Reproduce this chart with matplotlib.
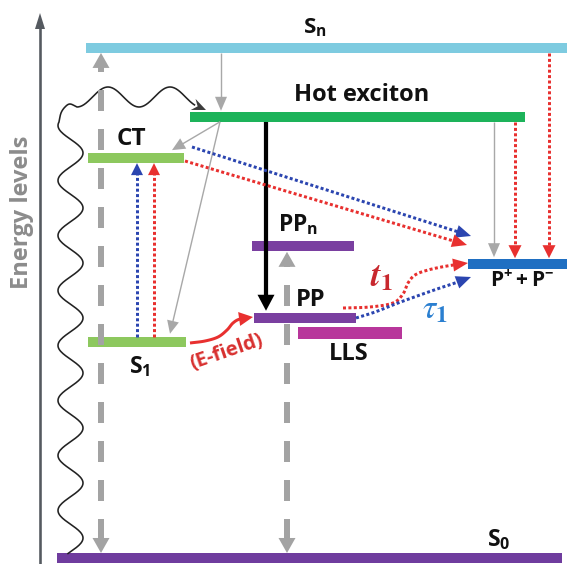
import numpy as np
import matplotlib
matplotlib.use('Agg')
import matplotlib.pyplot as plt
from matplotlib.mathtext import MathTextParser
from matplotlib.font_manager import FontProperties

plt.rcParams['font.family'] = ['Open Sans', 'DejaVu Sans']
plt.rcParams['mathtext.fontset'] = 'custom'
plt.rcParams['mathtext.rm'] = 'Open Sans'
plt.rcParams['mathtext.bf'] = 'Open Sans:bold'
plt.rcParams['mathtext.it'] = 'Open Sans:italic'

# ---------------- data: energy levels (arbitrary energy units) ----------------
level_keys = ['Sn', 'Hot', 'CT', 'PPn', 'Pion', 'PP', 'LLS', 'S1', 'S0']
level_energy = [10.0, 8.65, 7.84, 6.12, 5.76, 4.71, 4.41, 4.24, 0.0]
level_labels = [r'$\mathbf{S_n}$', 'Hot exciton', 'CT', r'$\mathbf{PP_n}$',
                r'$\mathbf{P^{+}+P^{-}}$', 'PP', 'LLS', r'$\mathbf{S_1}$', r'$\mathbf{S_0}$']
level_colors = ['#7ecbe0', '#1db35a', '#8dc85e', '#7a3fa0', '#1f6fc2',
                '#7a3fa0', '#b8369b', '#8dc85e', '#6f3c9e']
axis_label = 'Energy levels'
rate_labels = [r'$\mathbfit{t}_{\mathbf{1}}$', r'$\tau_{\mathbf{1}}$']
field_label = '(E-field)'

E = dict(zip(level_keys, level_energy))

# ---------------- layout ----------------
W_PX, H_PX = 567, 564
E_TOP, E_BOT = 10.94, -0.118
PXS = H_PX / (E_TOP - E_BOT)
level_span = {'Sn': (86, 567), 'Hot': (190, 525), 'CT': (88, 184), 'PPn': (252, 354),
              'Pion': (468, 567), 'PP': (254, 356), 'LLS': (298, 402), 'S1': (88, 186),
              'S0': (57, 562)}
level_thick = {'LLS': 12}
label_pos = {'Sn': (315, 28, 16), 'Hot': (362, 95, 17), 'CT': (131, 139, 17.5),
             'PPn': (298, 225, 16.5), 'Pion': (522, 280, 15), 'PP': (311, 300, 17),
             'LLS': (349, 354, 17), 'S1': (140, 367, 16.5), 'S0': (499, 540, 16.5)}

fig = plt.figure(figsize=(W_PX / 100, H_PX / 100), dpi=100)
ax = fig.add_axes([0, 0, 1, 1])
ax.set_xlim(0, W_PX)
ax.set_ylim(E_BOT, E_TOP)
ax.axis('off')


def ypx(e):
    return (E_TOP - e) * PXS


def d(x, y):
    return x, E_TOP - y / PXS


def lw_pt(px):
    return px * 0.72


def catmull(points, n=20):
    p = np.array(points, float)
    if len(p) < 3:
        return p
    p = np.vstack([p[0] * 2 - p[1], p, p[-1] * 2 - p[-2]])
    out = []
    for i in range(1, len(p) - 2):
        p0, p1, p2, p3 = p[i - 1], p[i], p[i + 1], p[i + 2]
        for t in np.linspace(0, 1, n, endpoint=False):
            t2, t3 = t * t, t * t * t
            out.append(0.5 * ((2 * p1) + (-p0 + p2) * t + (2 * p0 - 5 * p1 + 4 * p2 - p3) * t2
                              + (-p0 + 3 * p1 - 3 * p2 + p3) * t3))
    out.append(p[-2])
    return np.array(out)


def head_poly(tip, u, L, Wd, color, z, notch=0.0):
    n = np.array([-u[1], u[0]])
    base = tip - u * L
    pts = [tip, base + n * Wd / 2, base + u * L * notch, base - n * Wd / 2]
    xs = [q[0] for q in pts]
    ys = [E_TOP - q[1] / PXS for q in pts]
    ax.fill(xs, ys, color=color, lw=0, zorder=z)


def cut_end(pts, L):
    pts = np.array(pts, float)
    tip = pts[-1]
    acc = 0.0
    for i in range(len(pts) - 1, 0, -1):
        seg = np.linalg.norm(pts[i] - pts[i - 1])
        if acc + seg >= L:
            f = (L - acc) / seg
            base = pts[i] + (pts[i - 1] - pts[i]) * f
            return np.vstack([pts[:i], base]), base, tip
        acc += seg
    return pts[:1], pts[0], tip


def arrow(pts, color, lwpx, ls='-', L=12, Wd=10, hcolor=None, z=3, both=False,
          smooth=False, notch=0.0):
    pts = catmull(pts) if smooth else np.array(pts, float)
    line, base, tip = cut_end(pts, L * 0.85)
    u = (tip - base) / np.linalg.norm(tip - base)
    head_poly(tip, u, L, Wd, hcolor or color, z + 0.1, notch)
    if both:
        rev = line[::-1]
        line2, base2, tip2 = cut_end(rev, L * 0.85)
        u2 = (tip2 - base2) / np.linalg.norm(tip2 - base2)
        head_poly(tip2, u2, L, Wd, hcolor or color, z + 0.1, notch)
        line = line2[::-1]
    ax.plot(line[:, 0], E_TOP - line[:, 1] / PXS, color=color, lw=lw_pt(lwpx), ls=ls,
            solid_capstyle='butt', dash_capstyle='butt', zorder=z)


def math_ok(s, fam):
    try:
        MathTextParser('path').parse(s, prop=FontProperties(math_fontfamily=fam))
        return True
    except Exception:
        return False


# ---------------- energy axis ----------------
arrow([(40, 566), (40, 13)], '#555a60', 2.6, L=16, Wd=10, z=2)
ax.text(*d(22, 212), axis_label, rotation=90, ha='center', va='center',
        fontsize=17, fontweight='bold', color='#8c8c8c')

# ---------------- levels ----------------
for k, e, c in zip(level_keys, level_energy, level_colors):
    x0, x1 = level_span[k]
    th = level_thick.get(k, 10) / PXS
    ax.barh(e, x1 - x0, left=x0, height=th, color=c, zorder=2)

for k, lab in zip(level_keys, level_labels):
    x, y, fs = label_pos[k]
    ax.text(*d(x, y), lab, ha='center', va='center', fontsize=fs,
            fontweight='bold', color='#111111', zorder=6)

# ---------------- wavy line (S0 -> hot exciton) ----------------
yv = np.linspace(ypx(E['S0']) - 4, 122, 400)
xv = 70.5 + 12.5 * np.cos(2 * np.pi * (yv - 153) / 55)
join = catmull([(xv[-1], yv[-1]), (61, 113), (65, 107), (70, 104), (77, 107)], n=12)
xh = np.linspace(78, 200, 200)
yh = 97 - 10 * np.cos(2 * np.pi * (xh - 108) / 62)
wave = np.vstack([np.column_stack([xv, yv]), join, np.column_stack([xh, yh]),
                  [(206, 110)]])
arrow(wave, '#222222', 1.6, L=14, Wd=12, hcolor='#3c3c3c', z=3, notch=0.35)

# ---------------- gray dashed radiative arrows ----------------
gdash = (0, (3.5, 3.0))
arrow([(101, ypx(E['S0']) - 5), (101, ypx(E['Sn']) + 5)], '#a3a3a3', 6, ls=gdash,
      L=15, Wd=17, both=True, z=4)
arrow([(287, ypx(E['S0']) - 5), (287, ypx(E['PPn']) + 6)], '#a3a3a3', 6, ls=gdash,
      L=15, Wd=17, both=True, z=4)

# ---------------- gray thin relaxation arrows ----------------
gcol = '#a8a8a8'
arrow([(221, ypx(E['Sn']) + 5), (221, ypx(E['Hot']) - 6)], gcol, 1.4, L=14, Wd=12)
arrow([(220, ypx(E['Hot']) + 5), (172, ypx(E['CT']) - 8)], gcol, 1.4, L=13, Wd=12)
arrow([(220, ypx(E['Hot']) + 5), (170, ypx(E['S1']) - 8)], gcol, 1.4, L=13, Wd=12)
arrow([(494, ypx(E['Hot']) + 5), (494, ypx(E['Pion']) - 7)], gcol, 1.4, L=14, Wd=12)

# ---------------- black arrow hot -> PP ----------------
arrow([(266, ypx(E['Hot']) + 5), (266, ypx(E['PP']) - 7)], '#000000', 4.2, L=16, Wd=17, z=3)

# ---------------- dotted transfer arrows ----------------
red, blue = '#e8302f', '#2b45b0'
dot = (0, (1, 0.8))
arrow([(515, ypx(E['Hot']) + 5), (515, ypx(E['Pion']) - 6)], red, 3, ls=dot, L=13, Wd=13)
arrow([(549, ypx(E['Sn']) + 5), (549, ypx(E['Pion']) - 6)], red, 3, ls=dot, L=13, Wd=13)
arrow([(137, ypx(E['S1']) - 5), (137, ypx(E['CT']) + 5)], blue, 3, ls=dot, L=12, Wd=12)
arrow([(154, ypx(E['S1']) - 5), (154, ypx(E['CT']) + 5)], red, 3, ls=dot, L=12, Wd=12)
arrow([(192, 147), (471, 236)], blue, 3, ls=dot, L=15, Wd=13)
arrow([(185, 161), (467, 245)], red, 3, ls=dot, L=15, Wd=13)

# t1 / tau1 from PP to P+ + P-
arrow([(343, 308), (370, 307), (393, 303), (403, 294), (408, 283), (415, 275),
       (428, 270), (447, 266), (468, 263)], red, 3, ls=dot, L=15, Wd=13, smooth=True)
arrow([(356, 318), (375, 312), (398, 303), (420, 295), (440, 288), (455, 283), (471, 277)],
      blue, 3, ls=dot, L=15, Wd=13, smooth=True)

# E-field arrow S1 -> PP
arrow([(190, 343), (205, 341), (218, 337), (227, 330), (233, 323), (240, 319), (253, 317)],
      red, 3, L=14, Wd=14, smooth=True)
ax.text(*d(227, 352), field_label, rotation=19, ha='center', va='center', fontsize=14.5,
        fontweight='bold', color='#d8302f', zorder=6)

# rate labels
t_lab = rate_labels[0] if math_ok(rate_labels[0], 'stix') else r'$t_{\mathbf{1}}$'
ax.text(*d(382, 277), t_lab, ha='center', va='center', fontsize=25,
        math_fontfamily='stix', color='#c8282e', zorder=6)
ax.text(*d(435, 310), rate_labels[1], ha='center', va='center', fontsize=24,
        math_fontfamily='stix', color='#2a7fd0', zorder=6)

fig.savefig('out.png', dpi=100)
